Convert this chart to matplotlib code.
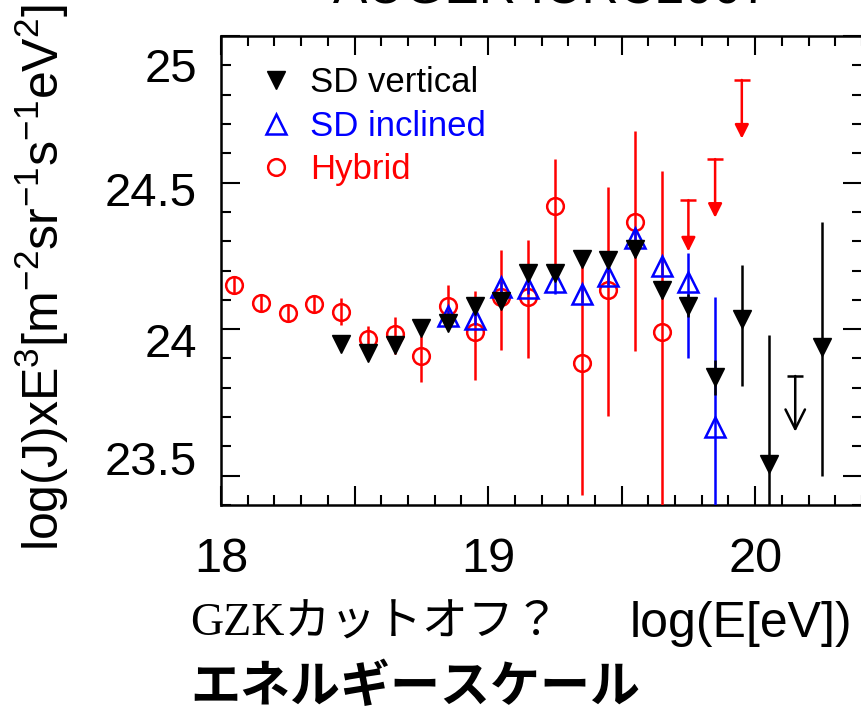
import matplotlib
matplotlib.use('Agg')
import matplotlib.pyplot as plt
import matplotlib.transforms as mtransforms
from matplotlib.ticker import MultipleLocator

plt.rcParams['font.family'] = ['Liberation Sans', 'DejaVu Sans']
plt.rcParams['mathtext.fontset'] = 'custom'
plt.rcParams['mathtext.rm'] = 'Liberation Sans'
plt.rcParams['mathtext.it'] = 'Liberation Sans'
plt.rcParams['mathtext.default'] = 'regular'

# ---------------- data ----------------
# Hybrid (red open circles)
hyb_x = [18.05, 18.15, 18.25, 18.35, 18.45, 18.55, 18.65, 18.75, 18.85, 18.95,
         19.05, 19.15, 19.25, 19.35, 19.45, 19.55, 19.65]
hyb_y = [24.15, 24.09, 24.055, 24.085, 24.06, 23.965, 23.985, 23.91, 24.08, 23.99,
         24.11, 24.11, 24.42, 23.885, 24.135, 24.365, 23.99]
hyb_lo = [0.03, 0.03, 0.03, 0.03, 0.045, 0.05, 0.07, 0.09, 0.06, 0.165,
          0.18, 0.21, 0.24, 0.45, 0.43, 0.44, 1.0]
hyb_hi = [0.03, 0.03, 0.03, 0.03, 0.045, 0.045, 0.057, 0.065, 0.07, 0.14,
          0.16, 0.195, 0.16, 0.35, 0.35, 0.31, 0.55]
# Hybrid upper limits
hyb_lim_x = [19.75, 19.85, 19.95]
hyb_lim_y = [24.44, 24.58, 24.85]
hyb_lim_len = [0.175, 0.2, 0.2]

# SD vertical (black filled down-triangles)
sdv_x = [18.45, 18.55, 18.65, 18.75, 18.85, 18.95, 19.05, 19.15, 19.25, 19.35,
         19.45, 19.55, 19.65, 19.75, 19.85, 19.95, 20.05, 20.25]
sdv_y = [23.95, 23.92, 23.945, 24.005, 24.02, 24.08, 24.095, 24.19, 24.19, 24.24,
         24.235, 24.275, 24.135, 24.08, 23.835, 24.035, 23.54, 23.94]
sdv_lo = [0.015, 0.015, 0.015, 0.015, 0.015, 0.015, 0.02, 0.02, 0.02, 0.02,
          0.025, 0.03, 0.03, 0.04, 0.06, 0.23, 1.0, 0.44]
sdv_hi = [0.015, 0.015, 0.015, 0.015, 0.015, 0.015, 0.02, 0.02, 0.02, 0.02,
          0.025, 0.03, 0.03, 0.04, 0.06, 0.185, 0.44, 0.425]
# SD vertical upper limit
sdv_lim_x = [20.15]
sdv_lim_y = [23.84]
sdv_lim_len = [0.19]

# SD inclined (blue open up-triangles)
sdi_x = [18.85, 18.95, 19.05, 19.15, 19.25, 19.35, 19.45, 19.55, 19.65, 19.75, 19.85]
sdi_y = [24.045, 24.035, 24.145, 24.14, 24.16, 24.12, 24.18, 24.31, 24.215, 24.16, 23.665]
sdi_lo = [0.02, 0.02, 0.02, 0.02, 0.04, 0.03, 0.03, 0.03, 0.03, 0.26, 1.0]
sdi_hi = [0.02, 0.02, 0.02, 0.02, 0.02, 0.03, 0.03, 0.03, 0.03, 0.10, 0.445]

legend_labels = ['SD vertical', 'SD inclined', 'Hybrid']
legend_colors = ['black', 'blue', 'red']

ytick_labels = ['25', '24.5', '24', '23.5']
xtick_labels = ['18', '19', '20']
xtick_values = [18, 19, 20]

title = 'AUGER ICRC2007'
ylabel = r'log(J)xE$^3$[m$^{-2}$sr$^{-1}$s$^{-1}$eV$^2$]'
xlabel = 'log(E[eV])'
note1 = 'GZKカットオフ？'
note2 = 'エネルギースケール'

# ---------------- figure ----------------
W, H = 861, 714
fig = plt.figure(figsize=(W / 100, H / 100), dpi=100)


def fx(px):
    return px / W


def fy(py):
    return 1 - py / H


ax = fig.add_axes([fx(221), fy(505), fx(862) - fx(221), fy(36) - fy(505)])
ax.set_xlim(18.0, 20.4)
ax.set_ylim(23.4, 25.0)

lw = 1.8
hyb = ax.errorbar(hyb_x, hyb_y, yerr=[hyb_lo, hyb_hi], fmt='o', ms=12,
                  mfc='none', mec='red', mew=lw, ecolor='red', elinewidth=lw,
                  capsize=0, zorder=3)
sdi = ax.errorbar(sdi_x, sdi_y, yerr=[sdi_lo, sdi_hi], fmt='^', ms=15,
                  mfc='none', mec='blue', mew=lw, ecolor='blue', elinewidth=lw,
                  capsize=0, zorder=4)
sdv = ax.errorbar(sdv_x, sdv_y, yerr=[sdv_lo, sdv_hi], fmt='v', ms=13,
                  mfc='black', mec='black', mew=1, ecolor='black', elinewidth=lw,
                  capsize=0, zorder=5)


def upper_limits(xs, ys, lens, color, style, zo):
    ax.plot(xs, ys, ls='none', marker='_', ms=11, mew=lw, color=color, zorder=zo)
    for x, y, d in zip(xs, ys, lens):
        ax.annotate('', xy=(x, y - d), xytext=(x, y), xycoords='data',
                    arrowprops=dict(arrowstyle=style, color=color, lw=lw,
                                    shrinkA=0, shrinkB=0, mutation_scale=14),
                    zorder=zo)


upper_limits(hyb_lim_x, hyb_lim_y, hyb_lim_len, 'red',
             '-|>,head_length=0.6,head_width=0.3', 3)
upper_limits(sdv_lim_x, sdv_lim_y, sdv_lim_len, 'black',
             '->,head_length=1.0,head_width=0.5', 5)

# ticks
ax.xaxis.set_major_locator(MultipleLocator(0.5))
ax.xaxis.set_minor_locator(MultipleLocator(0.1))
ax.yaxis.set_major_locator(MultipleLocator(0.5))
ax.yaxis.set_minor_locator(MultipleLocator(0.1))
ax.tick_params(which='both', direction='in', top=True, right=True,
               labelbottom=False, labelleft=False, width=1.5)
ax.tick_params(which='major', length=14)
ax.tick_params(which='minor', length=7)
for s in ax.spines.values():
    s.set_linewidth(1.8)

leg = ax.legend([sdv[0], sdi[0], hyb[0]], legend_labels, loc='upper left',
                bbox_to_anchor=(0.058, 0.935), frameon=False, fontsize=25,
                handlelength=1.0, handletextpad=0.5, labelspacing=0.3,
                borderpad=0, borderaxespad=0, labelcolor=legend_colors)

# slide-style large labels
for lab, yy in zip(ytick_labels, [70, 194, 345, 463]):
    fig.text(fx(197), fy(yy), lab, ha='right', va='center', fontsize=34)
xt = mtransforms.blended_transform_factory(ax.transData, fig.transFigure)
for lab, xv in zip(xtick_labels, xtick_values):
    ax.text(xv, fy(560), lab, transform=xt, ha='center', va='center', fontsize=35)

fig.text(fx(42), fy(278), ylabel, rotation=90, ha='center', va='center', fontsize=36)
fig.text(fx(852), fy(624), xlabel, ha='right', va='center', fontsize=36)
fig.text(fx(190), fy(624), note1, ha='left', va='center', fontsize=33,
         family=['Liberation Serif', 'Noto Sans CJK JP'])
fig.text(fx(190), fy(688), note2, ha='left', va='center', fontsize=36,
         family=['Noto Sans CJK JP'], fontweight='bold')
fig.text(fx(552), fy(4), title, ha='center', va='baseline', fontsize=37)

fig.savefig('out.png', dpi=100)
